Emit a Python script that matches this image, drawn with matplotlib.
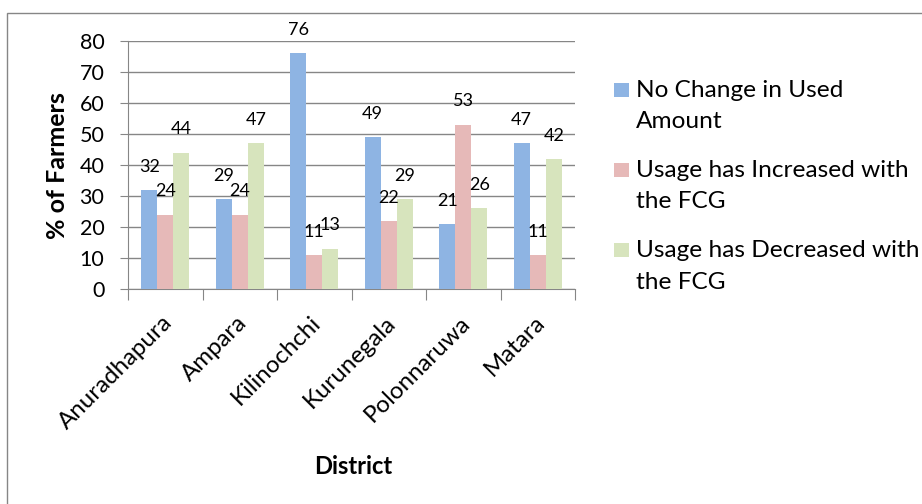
import matplotlib
matplotlib.use("Agg")
import matplotlib.pyplot as plt
import matplotlib.transforms as mtransforms
import numpy as np
from matplotlib.patches import Rectangle

districts = ["Anuradhapura", "Ampara", "Kilinochchi", "Kurunegala", "Polonnaruwa", "Matara"]
no_change = [32, 29, 76, 49, 21, 47]
increased = [24, 24, 11, 22, 53, 11]
decreased = [44, 47, 13, 29, 26, 42]
series_names = [["No Change in Used", "Amount"],
                ["Usage has Increased with", "the FCG"],
                ["Usage has Decreased with", "the FCG"]]
colors = ["#8EB4E3", "#E6B9B8", "#D7E4BD"]
grid_color = "#868686"

plt.rcParams['font.family'] = ['Lato', 'DejaVu Sans']

W, H = 922, 504
fig = plt.figure(figsize=(W / 100, H / 100), dpi=100)

def fx(px):
    return px / W

def fy(py):
    return 1 - py / H

# chart area border
fig.patches.append(Rectangle((fx(7), -0.1), 1.2, fy(13) + 0.1, transform=fig.transFigure,
                             fill=False, edgecolor=grid_color, linewidth=1))

ax = fig.add_axes([fx(128), fy(289), fx(575) - fx(128), fy(41) - fy(289)])

x = np.arange(len(districts))
w = 0.216
for i, (vals, c) in enumerate(zip([no_change, increased, decreased], colors)):
    pos = x + (i - 1) * w
    ax.bar(pos, vals, width=w, color=c, zorder=3)
    for p, v in zip(pos, vals):
        ax.text(p, v + 7.5, str(v), ha="center", va="center", fontsize=13, zorder=4)

ax.set_xlim(-0.5, len(districts) - 0.5)
ax.set_ylim(0, 80)
ax.set_yticks(range(0, 81, 10))
ax.yaxis.grid(True, color=grid_color, linewidth=1, zorder=0)
ax.set_axisbelow(True)
ax.set_xticks(np.arange(-0.5, len(districts), 1.0))
ax.set_xticklabels([])
ax.tick_params(axis="x", length=8, color=grid_color, direction="out")
ax.tick_params(axis="y", length=6, color=grid_color, labelsize=15.5, pad=11)
for s in ["top", "right"]:
    ax.spines[s].set_visible(False)
ax.spines["left"].set_color(grid_color)
ax.spines["bottom"].set_color(grid_color)

# rotated category labels, right end of the baseline placed just below each group
offset = mtransforms.ScaledTranslation(8 / 100, -35 / 100, fig.dpi_scale_trans)
for xi, name in zip(x, districts):
    ax.text(xi, 0, name, transform=ax.get_xaxis_transform() + offset,
            rotation=45, ha="right", va="baseline", rotation_mode="anchor", fontsize=17.3)

fig.text(fx(65), fy(165.5), "% of Farmers", rotation=90, ha="center", va="baseline",
         rotation_mode="anchor", fontsize=18, fontweight="bold")
fig.text(fx(353.5), fy(473.5), "District", ha="center", va="baseline", fontsize=17.1,
         fontweight="bold")

# legend
baselines = [(97, 128), (177, 208), (257, 289)]
for (b1, b2), lines, c in zip(baselines, series_names, colors):
    fig.patches.append(Rectangle((fx(614), fy(b1)), fx(15), 14 / H,
                                 transform=fig.transFigure, facecolor=c, edgecolor="none"))
    fig.text(fx(636), fy(b1), lines[0], ha="left", va="baseline", fontsize=17.6)
    fig.text(fx(636), fy(b2), lines[1], ha="left", va="baseline", fontsize=17.6)

fig.savefig("out.png", dpi=100)
